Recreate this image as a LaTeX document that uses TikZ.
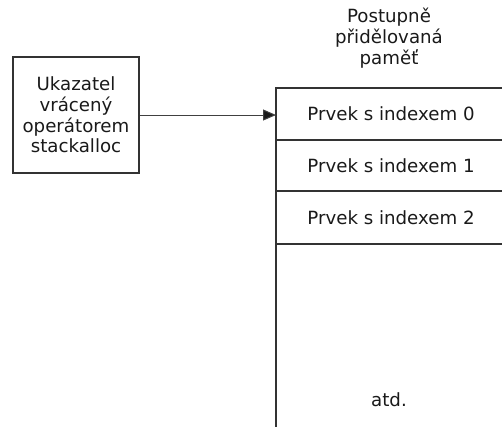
\documentclass[tikz,border=0pt]{standalone}
\usepackage{fontspec}
\setmainfont{DejaVu Sans}
\usetikzlibrary{arrows.meta}
\begin{document}
\begin{tikzpicture}[x=1pt,y=-1pt,
  every node/.style={font=\fontsize{18.2}{20.8}\selectfont, text=black!90},
  boxline/.style={draw=black!80, line width=1.4pt},
  cell/.style={minimum width=226pt, minimum height=52pt, inner sep=0pt},
  link/.style={draw=black!75, line width=1pt, -{Triangle[length=13pt,width=11pt,fill=black!90]}}]
\useasboundingbox (0,0) rectangle (502,429);
\node[boxline, minimum width=126pt, minimum height=116pt, align=center, inner sep=0pt] (ptr) at (76,115)
  {Ukazatel\\vrácený\\operátorem\\stackalloc};
\node[align=center] (title) at (389,38) {Postupně\\přidělovaná\\paměť};
\node[cell] (cell0) at (391,114) {Prvek s indexem 0};
\node[cell] (cell1) at (391,165.5) {Prvek s indexem 1};
\node[cell] (cell2) at (391,217.5) {Prvek s indexem 2};
\node (etc) at (389,400) {atd.};
\coordinate (c0w) at (276,115);
\coordinate (topr) at (502,88);
\coordinate (topl) at (276,88);
\coordinate (bot) at (276,427);
\draw[boxline] (topr) -- (topl) -- (bot);
\draw[boxline] (276,140) -- (502,140);
\draw[boxline] (276,191) -- (502,191);
\draw[boxline] (276,244) -- (502,244);
\draw[link] (ptr.east) -- (c0w);
\end{tikzpicture}
\end{document}
